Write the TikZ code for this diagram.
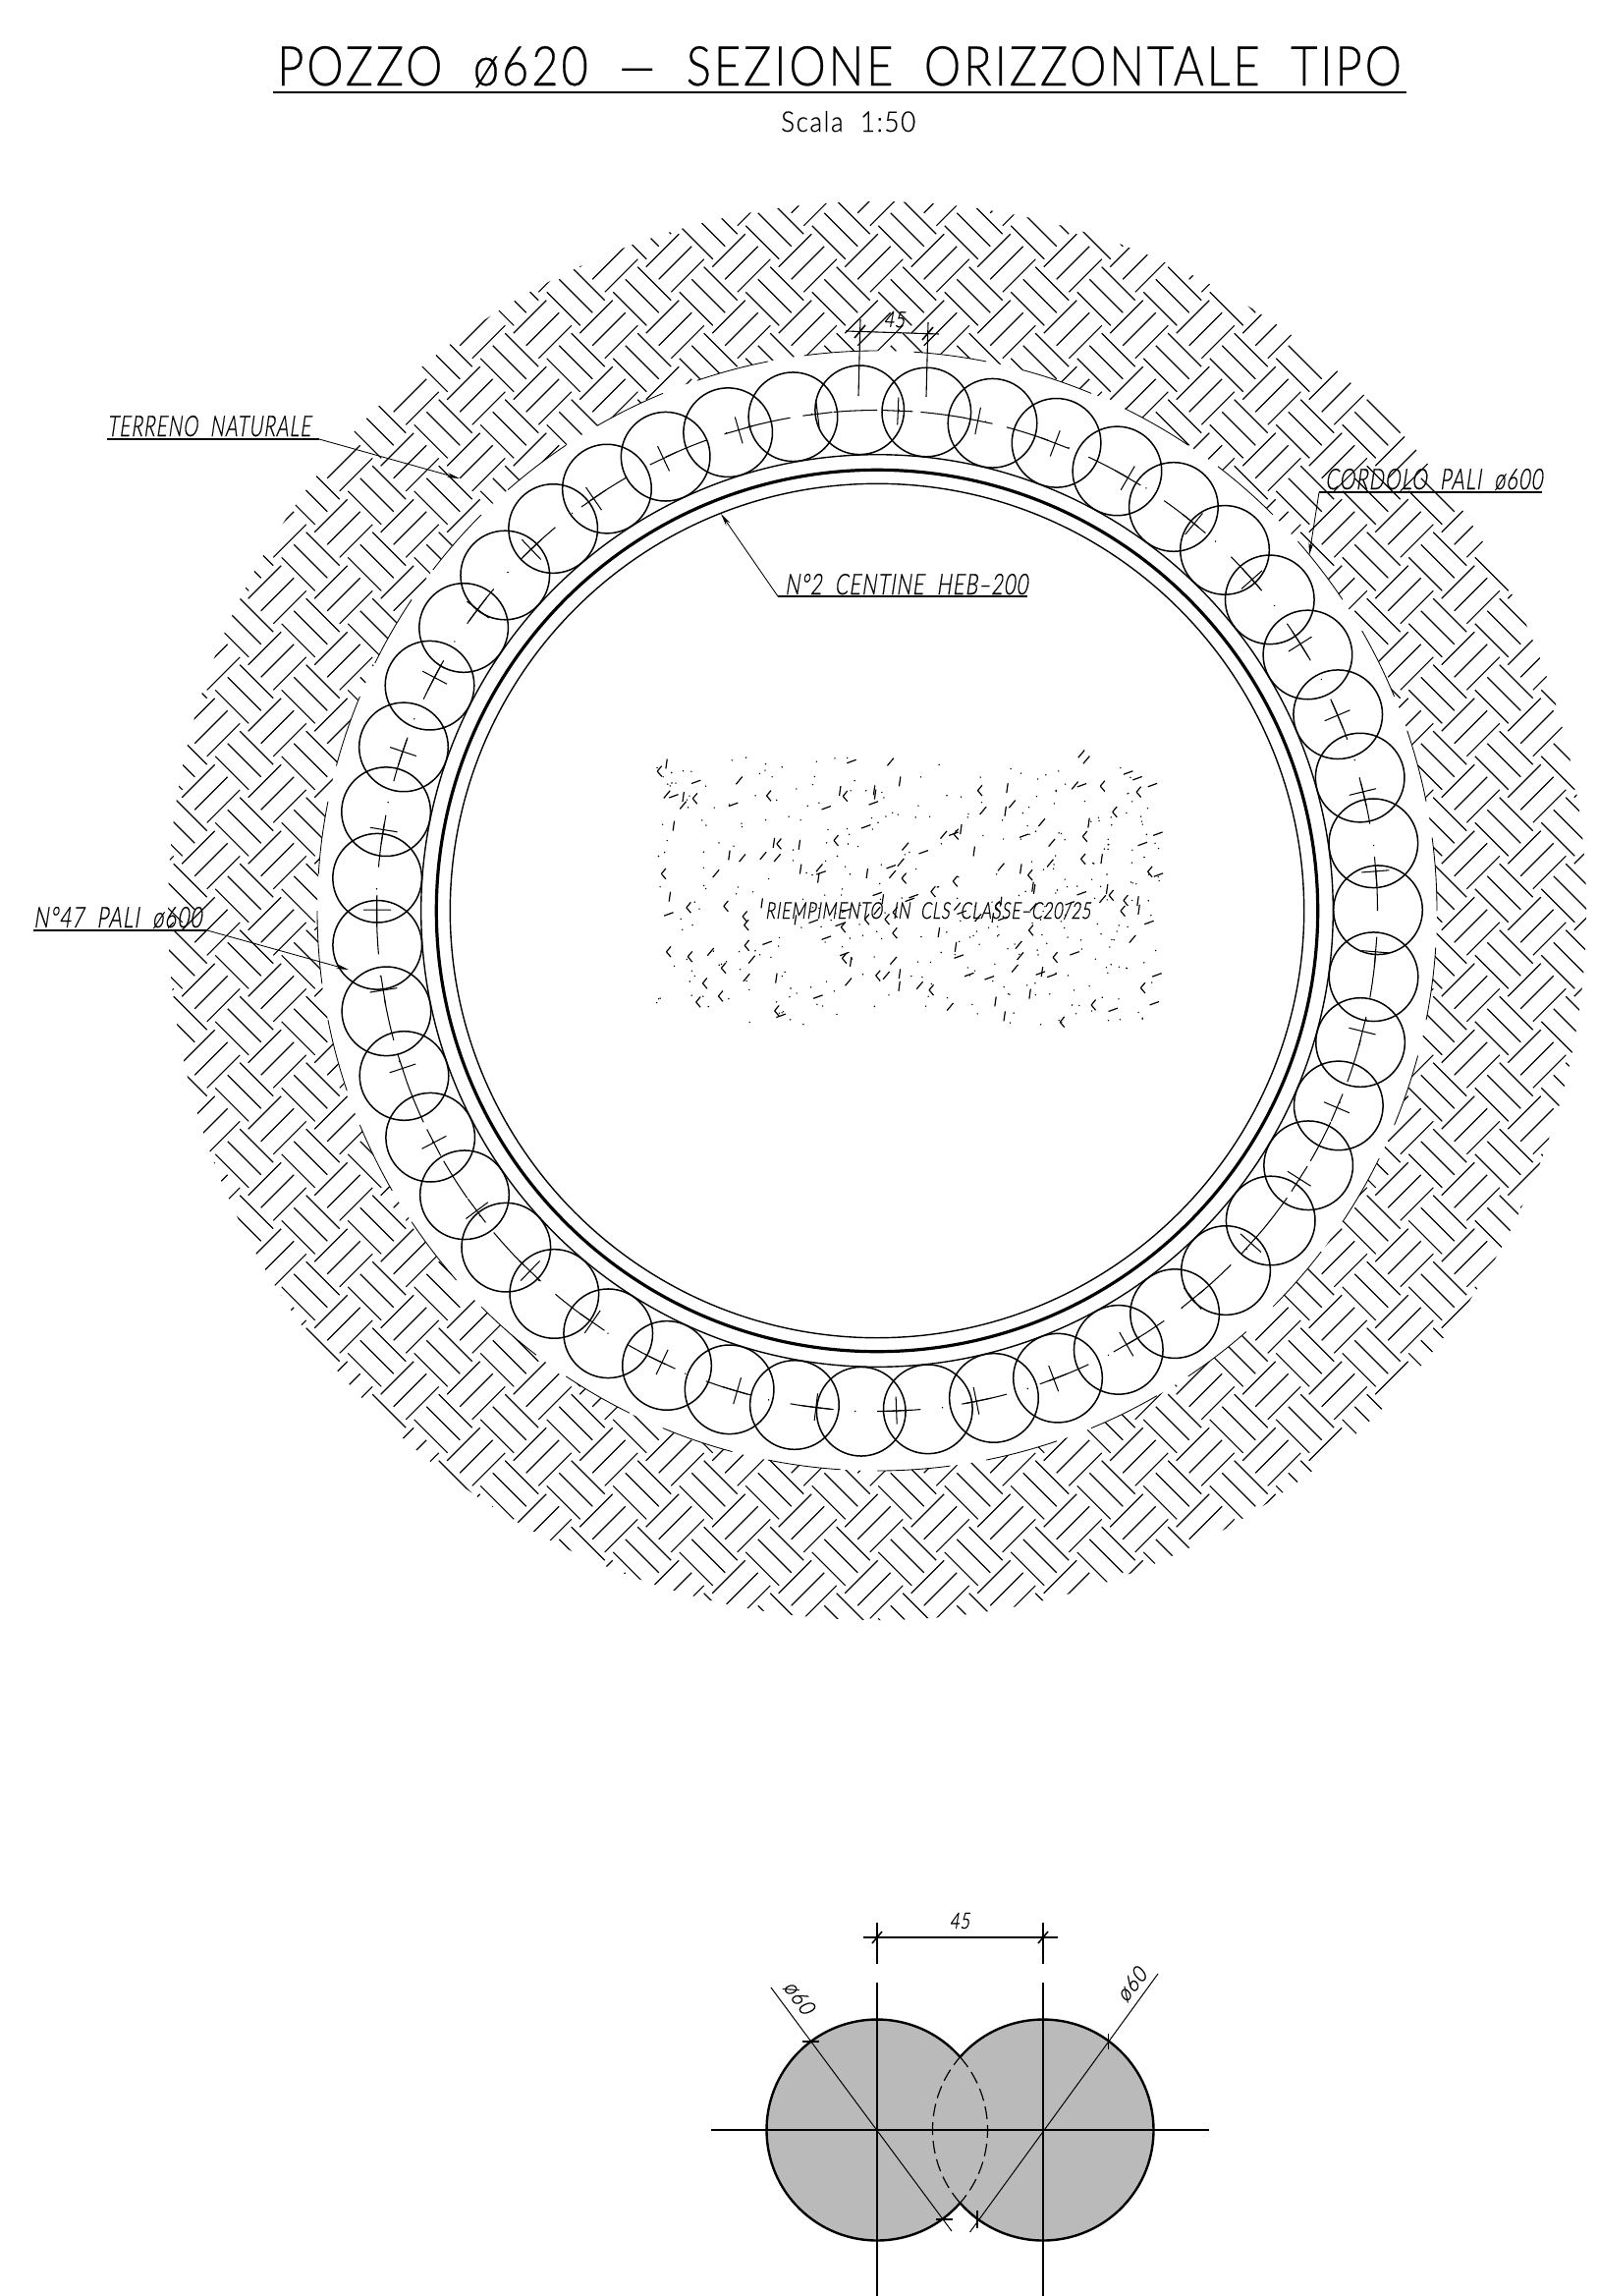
\documentclass[tikz,border=0pt]{standalone}
\usepackage{graphicx}
\usepackage{fontspec}
\usetikzlibrary{arrows.meta}
\newfontfamily\cadn[LetterSpace=6,FakeBold=0.4]{Lato Light}
\newfontfamily\cadi[LetterSpace=6,FakeSlant=0.22,FakeBold=0.8]{Lato Light}
\newfontfamily\cadib[LetterSpace=6,FakeSlant=0.22,FakeBold=1.1]{Lato Light}
\newcommand{\cadfit}[3]{\resizebox{#1pt}{#2pt}{#3}}
\tikzset{
  hatchline/.style={line width=1.2pt,line cap=butt},
  pile/.style={line width=1.5pt},
  thinring/.style={line width=1.4pt},
  thickring/.style={line width=3.2pt},
  centreline/.style={line width=1.05pt},
  bound/.style={line width=.85pt},
  leader/.style={line width=.85pt},
  underline/.style={line width=1.3pt},
  labeltxt/.style={inner sep=0pt,anchor=base west},
  dimline/.style={line width=1.1pt},
  ticks/.style={line width=1.6pt},
  arrowtip/.style={-{Stealth[length=13pt,width=5pt]}},
  speck/.style={line width=1.2pt},
}
\begin{document}
\begin{tikzpicture}[x=1pt,y=-1pt]
\useasboundingbox (0,0) rectangle (1627,2337);
\fill[white] (0,0) rectangle (1627,2337);
% hatch annulus
\begin{scope}[even odd rule]
\clip (893,927) circle[radius=722] (893,927) circle[radius=570];
\draw[hatchline]
 \foreach \i [evaluate=\i as \xs using 67.5*\i] in {-2,...,20}{
  \foreach \j [evaluate=\j as \ys using 67.5*\j] in {-14,...,9}{
   ({252.7+\xs},{1081.7+\ys}) -- ++(33.5,-33.5)
   ({265.7+\xs},{1094.3+\ys}) -- ++(33.5,-33.5)
   ({278.3+\xs},{1107.3+\ys}) -- ++(33.5,-33.5)
   ({311.7+\xs},{1081.7+\ys}) -- ++(34,34)
   ({299.3+\xs},{1094.3+\ys}) -- ++(34,34)
   ({286.7+\xs},{1107.3+\ys}) -- ++(34,34)
  }};
\end{scope}
\begin{scope}[shift={(893,927)}]
% hatch boundary dashes
\foreach \k in {0,...,31}{
  \pgfmathsetmacro\angA{-97.5+11.25*\k}
  \pgfmathsetmacro\angB{\angA+7.5}
  \draw[bound] (\angA:570) arc[start angle=\angA,end angle=\angB,radius=570];
}
% rings
\draw[thinring] (0,0) circle[radius=434.7];
\draw[thickring] (0,0) circle[radius=448.7];
\draw[thinring] (0,0) circle[radius=464.3];
% piles
\foreach \k in {0,...,46}{
  \pgfmathsetmacro\angA{-92+360/47*\k}
  \draw[pile] (\angA:510) circle[radius=45.3];
}
% dash-dot centre line, period 10 degrees
\foreach \k in {0,...,35}{
  \pgfmathsetmacro\angS{-85+10*\k}
  \pgfmathsetmacro\angE{\angS+5}
  \pgfmathsetmacro\angD{\angS-2.5}
  \draw[centreline] (\angS:509.5) arc[start angle=\angS,end angle=\angE,radius=509.5];
  \fill (\angD:510) circle[radius=.8];
}
% crosses, period 360/39 degrees
\foreach \k in {0,...,38}{
  \pgfmathsetmacro\angA{-87.6+360/39*\k}
  \pgfmathsetmacro\angS{\angA-1.7}
  \pgfmathsetmacro\angE{\angA+1.7}
  \draw[centreline] (\angS:509.5) -- (\angE:509.5);
  \draw[centreline] (\angA:495) -- (\angA:523);
}
\end{scope}
% concrete speckle
\pgfmathsetseed{4711}
\foreach \n in {1,...,350}{
  \pgfmathsetmacro\xx{667+514*rnd}
  \pgfmathsetmacro\yy{771+272*rnd}
  \fill (\xx,\yy) circle[radius=.8];
}
\foreach \n in {1,...,125}{
  \pgfmathsetmacro\xx{667+514*rnd}
  \pgfmathsetmacro\yy{771+272*rnd}
  \pgfmathsetmacro\ty{int(3*rnd)}
  \pgfmathsetmacro\dr{\ty==0?-20:(\ty==1?-82:-50)}
  \draw[speck] (\xx,\yy) -- ++(\dr:10);
}
\foreach \n in {1,...,48}{
  \pgfmathsetmacro\xx{667+514*rnd}
  \pgfmathsetmacro\yy{771+272*rnd}
  \draw[speck] (\xx,\yy) -- ++(-50:7) (\xx,\yy) -- ++(50:7);
}
% title
\node[labeltxt] (title) at (282,87) {\cadfit{1144}{40}{\cadn POZZO\ \ ø620\ \ —\ \ SEZIONE\ \ ORIZZONTALE\ \ TIPO}};
\coordinate (titleA) at (278,94); \coordinate (titleB) at (1432,94);
\draw[line width=2.2pt] (titleA) -- (titleB);
\node[labeltxt] (scala) at (795,134) {\cadfit{137}{21}{\cadn Scala\ \ 1:50}};
% labels
\node[labeltxt] (terreno) at (109,444) {\cadfit{207}{21}{\cadi TERRENO\ \ NATURALE}};
\coordinate (terA) at (109,447); \coordinate (terB) at (325,447); \coordinate (terC) at (468,487);
\draw[underline] (terA) -- (terB);
\draw[leader,arrowtip] (terB) -- (terC);
\node[labeltxt] (centine) at (799,605) {\cadfit{247}{21}{\cadi N°2\ \ CENTINE\ \ HEB–200}};
\coordinate (cenA) at (1046,607); \coordinate (cenB) at (792,607); \coordinate (cenC) at (734,523);
\draw[underline] (cenA) -- (cenB);
\draw[leader,arrowtip] (cenB) -- (cenC);
\node[labeltxt] (cordolo) at (1349,498) {\cadfit{221}{21}{\cadi CORDOLO\ \ PALI\ \ ø600}};
\coordinate (corA) at (1570,501); \coordinate (corB) at (1343,501); \coordinate (corC) at (1333,565);
\draw[underline] (corA) -- (corB);
\draw[leader,arrowtip] (corB) -- (corC);
\node[labeltxt] (pali) at (34,944) {\cadfit{171}{21}{\cadi N°47\ \ PALI\ \ ø600}};
\coordinate (palA) at (34,947); \coordinate (palB) at (211,947); \coordinate (palC) at (355,987);
\draw[underline] (palA) -- (palB);
\draw[leader,arrowtip] (palB) -- (palC);
\node[labeltxt] (riemp) at (779,935) {\cadfit{331}{17}{\cadib RIEMPIMENTO\ \ IN\ \ CLS\ \ CLASSE–C20/25}};
% top dimension
\coordinate (dA) at (861,337); \coordinate (dB) at (956,340);
\coordinate (e1a) at (876,325); \coordinate (e1b) at (874,403);
\coordinate (e2a) at (945,328); \coordinate (e2b) at (943,404);
\draw[dimline] (dA) -- (dB);
\draw[dimline] (e1a) -- (e1b);
\draw[dimline] (e2a) -- (e2b);
\draw[ticks] (870,344) -- (881,331);
\draw[ticks] (939,346) -- (950,333);
\node[inner sep=0pt,rotate=-2] (dim45a) at (910.5,325) {\cadfit{21}{16}{\cadib 45}};
% lower detail
\coordinate (lc) at (893,2168); \coordinate (rc) at (1062,2168);
\fill[black!27] (lc) circle[radius=112.5] (rc) circle[radius=112.5];
\begin{scope}[shift={(lc)}]
\draw[line width=1.2pt,dash pattern=on 13pt off 6pt] (-41.3:112.5) arc[start angle=-41.3,end angle=41.3,radius=112.5];
\draw[line width=2.4pt] (41.3:112.5) arc[start angle=41.3,end angle=318.7,radius=112.5];
\end{scope}
\begin{scope}[shift={(rc)}]
\draw[line width=1.2pt,dash pattern=on 13pt off 6pt] (138.7:112.5) arc[start angle=138.7,end angle=221.3,radius=112.5];
\draw[line width=2.4pt] (-138.7:112.5) arc[start angle=-138.7,end angle=138.7,radius=112.5];
\end{scope}
\coordinate (hA) at (724,2168); \coordinate (hB) at (1231,2168);
\draw[line width=1.5pt] (hA) -- (hB);
\coordinate (v1a) at (893,2018); \coordinate (v1b) at (893,2337);
\coordinate (v2a) at (1062,2018); \coordinate (v2b) at (1062,2337);
\coordinate (v1c) at (893,1957); \coordinate (v1d) at (893,1999);
\coordinate (v2c) at (1062,1957); \coordinate (v2d) at (1062,1999);
\draw[dimline] (v1a) -- (v1b) (v2a) -- (v2b) (v1c) -- (v1d) (v2c) -- (v2d);
\coordinate (lowA) at (879,1972); \coordinate (lowB) at (1077,1972);
\draw[dimline] (lowA) -- (lowB);
\draw[ticks] (888,1978) -- (898,1966);
\draw[ticks] (1057,1978) -- (1067,1966);
\node[inner sep=0pt] (dim45b) at (977,1955) {\cadfit{20}{16}{\cadib 45}};
\coordinate (dl1) at (785,2023); \coordinate (dl2) at (969,2271);
\coordinate (dr1) at (1179,2009); \coordinate (dr2) at (987.5,2272);
\draw[line width=1pt] (dl1) -- (dl2);
\draw[line width=1pt] (dr1) -- (dr2);
\draw[ticks] (817,2078) -- (834,2078);
\draw[ticks] (953,2259) -- (970,2259);
\draw[ticks] (1128.5,2070) -- (1128.5,2086);
\draw[ticks] (995,2250) -- (995,2268);
\node[inner sep=0pt,rotate=-54] (phiL) at (813.6,2033) {\cadfit{36}{16}{\cadib ø60}};
\node[inner sep=0pt,rotate=52] (phiR) at (1152,2020) {\cadfit{36}{16}{\cadib ø60}};
\end{tikzpicture}
\end{document}
